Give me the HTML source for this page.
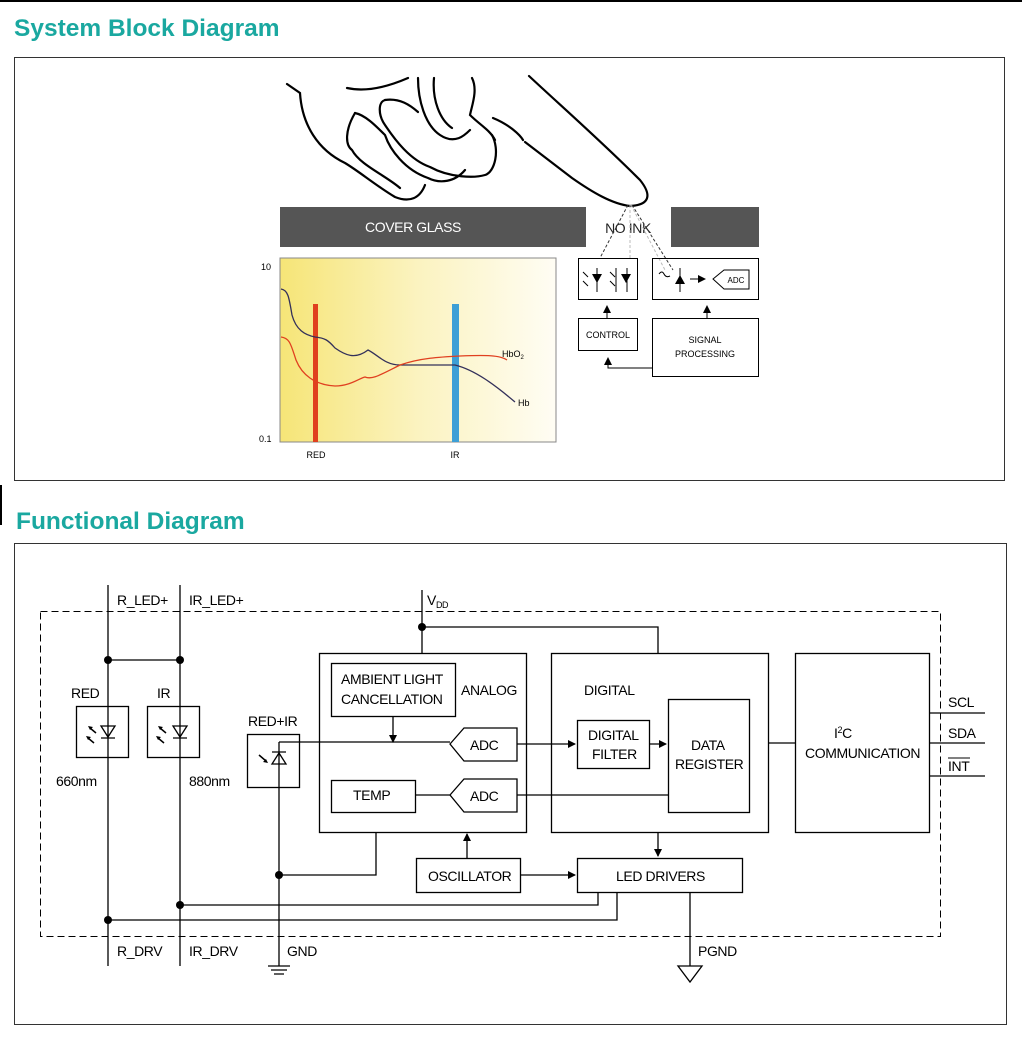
<!DOCTYPE html>
<html><head><meta charset="utf-8"><style>
body{margin:0;background:#fff;width:1022px;height:1036px;overflow:hidden;font-family:"Liberation Sans",Arial,sans-serif;}
svg text{font-family:"Liberation Sans",Arial,sans-serif;}
.f text{letter-spacing:-0.4px;}
</style></head><body>
<svg width="1022" height="1036" viewBox="0 0 1022 1036" xmlns="http://www.w3.org/2000/svg">
<defs>
<linearGradient id="yg" x1="0" x2="1" y1="0" y2="0">
<stop offset="0" stop-color="#f6e577"/><stop offset="0.5" stop-color="#fbf3c0"/><stop offset="1" stop-color="#fffdf4"/>
</linearGradient>
<marker id="ar" markerWidth="8" markerHeight="8" refX="7" refY="4" orient="auto" markerUnits="userSpaceOnUse"><path d="M0,0 L8,4 L0,8z" fill="#000"/></marker>
</defs>
<rect x="0" y="0" width="1022" height="2" fill="#000"/>
<rect x="0" y="485" width="2" height="40" fill="#000"/>
<text x="14" y="36" font-size="24.5" font-weight="bold" fill="#1aa8a0">System Block Diagram</text>
<text x="16" y="529" font-size="24.5" font-weight="bold" fill="#1aa8a0">Functional Diagram</text>
<rect x="14.5" y="57.5" width="990" height="423" fill="none" stroke="#333" stroke-width="1"/>
<rect x="14.5" y="543.5" width="992" height="481" fill="none" stroke="#333" stroke-width="1"/>

<!-- hand -->
<g fill="none" stroke="#000" stroke-width="2.2" stroke-linecap="round">
<path d="M287,84 L300,93 C302,125 318,150 345,163 C360,172 375,185 395,197 C410,203 420,198 425,185"/>
<path d="M347,88 C365,92 385,88 408,78"/>
<path d="M355,113 C345,130 345,145 352,150 C360,165 385,175 400,188"/>
<path d="M355,113 C365,115 375,125 385,135 C390,150 405,170 428,178 C440,184 455,182 465,170"/>
<path d="M385,100 C378,102 378,115 385,125 C395,140 410,160 430,167 C450,178 475,178 485,175 C495,172 500,150 492,135"/>
<path d="M385,100 C400,98 410,105 418,112"/>
<path d="M418,78 C418,100 425,125 440,135 C455,145 465,135 470,130"/>
<path d="M434,78 C432,100 440,120 452,128"/>
<path d="M472,78 C478,90 472,105 470,115 C480,125 490,130 495,140"/>
<path d="M493,118 C510,125 520,135 523,140"/>
<path d="M529,76 C560,105 600,140 640,180 C652,195 650,205 630,206 C612,204 592,192 572,178 L525,142"/>
</g>

<!-- cover glass -->
<rect x="280" y="207" width="479" height="40" fill="#555"/>
<rect x="586" y="207" width="85" height="40" fill="#fff"/>
<text x="413" y="232" font-size="14" fill="#fff" text-anchor="middle" letter-spacing="-0.4">COVER GLASS</text>
<text x="628" y="233" font-size="14" fill="#222" text-anchor="middle" letter-spacing="-0.4">NO INK</text>
<g stroke-dasharray="3,2" stroke-width="1" fill="none">
<path d="M628,205 L600,258" stroke="#333"/>
<path d="M630,205 L630,258" stroke="#bbb"/>
<path d="M631,205 L665,270" stroke="#bbb"/>
<path d="M632,205 L673,270" stroke="#333"/>
</g>

<!-- chart -->
<rect x="280" y="258" width="276" height="184" fill="url(#yg)" stroke="#888"/>
<text x="261" y="270" font-size="9">10</text>
<text x="259" y="442" font-size="9">0.1</text>
<rect x="313" y="304" width="5" height="138" fill="#e0401e"/>
<rect x="452" y="304" width="7" height="138" fill="#3d9fd6"/>
<path d="M281,289 C288,290 289,297 292,315 C296,330 305,335 315,337 C325,338 328,340 335,348 C345,355 355,360 368,350 C378,355 385,365 400,365 L455,365 C475,370 495,385 515,402" fill="none" stroke="#33305a" stroke-width="1.3"/>
<path d="M281,337 C290,338 291,345 296,360 C302,375 315,385 335,386 C350,386 360,378 365,377 C372,380 380,375 400,365 C420,358 440,357 460,356 C485,355 500,355 507,360" fill="none" stroke="#e04020" stroke-width="1.3"/>
<text x="502" y="357" font-size="9">HbO<tspan font-size="6" dy="2">2</tspan></text>
<text x="518" y="406" font-size="9">Hb</text>
<text x="316" y="458" font-size="9" text-anchor="middle">RED</text>
<text x="455" y="458" font-size="9" text-anchor="middle">IR</text>

<!-- block system -->
<g fill="none" stroke="#000" stroke-width="1">
<rect x="578.5" y="258.5" width="59" height="41"/>
<rect x="652.5" y="258.5" width="106" height="41"/>
<rect x="578.5" y="318.5" width="59" height="32"/>
<rect x="652.5" y="318.5" width="106" height="58"/>
<path d="M607,318 L607,306" marker-end="url(#ar)"/>
<path d="M707,318 L707,306" marker-end="url(#ar)"/>
<path d="M652,368 L608,368 L608,358" marker-end="url(#ar)"/>
<path d="M690,279 L705,279" marker-end="url(#ar)"/>
<path d="M713,279 L724,270 L749,270 L749,289 L724,289 Z"/>
<path d="M597,268 L597,292 M616,268 L616,292 M627,268 L627,292 M680,268 L680,292"/>
<path d="M583,272 l5,5 M583,281 l5,5 M610,272 l5,5 M610,281 l5,5 M659,274 q3,-4 5,0 q2,4 6,2"/>
</g>
<text x="736" y="283" font-size="8" text-anchor="middle">ADC</text>
<g fill="#000">
<path d="M592,274 L602,274 L597,283z"/><path d="M621,274 L631,274 L626,283z"/>
<path d="M675,284 L685,284 L680,275z"/>
</g>
<text x="608" y="338" font-size="9" text-anchor="middle">CONTROL</text>
<text x="705" y="343" font-size="9" text-anchor="middle">SIGNAL</text>
<text x="705" y="357" font-size="9" text-anchor="middle">PROCESSING</text>

<!-- functional -->
<rect x="40.5" y="611.5" width="900" height="325" fill="none" stroke="#000" stroke-dasharray="7,4"/>
<g fill="none" stroke="#000" stroke-width="1.3">
<path d="M108,585 V966 M180,585 V966 M108,660 H180"/>
<rect x="76.5" y="706.5" width="52" height="51" fill="#fff"/>
<rect x="147.5" y="706.5" width="52" height="51" fill="#fff"/>
<path d="M108,706 V757 M180,706 V757"/>
<path d="M101,726 L115,726 L108,737z M101,738 H115 M173,726 L187,726 L180,737z M173,738 H187"/>
<rect x="247.5" y="734.5" width="52" height="53"/>
<path d="M279,742 H450 M279,742 V966"/>
<path d="M272,764 L286,764 L279,753z M272,752 H286"/>
<path d="M268,966 H290 M271,970 H287 M274,974 H284"/>
<rect x="319.5" y="653.5" width="207" height="179"/>
<rect x="331.5" y="663.5" width="124" height="53"/>
<rect x="331.5" y="780.5" width="84" height="32"/>
<path d="M450,744 L464,728 L517,728 L517,761 L464,761 Z"/>
<path d="M450,795 L464,779 L517,779 L517,812 L464,812 Z"/>
<path d="M393,716 V742" marker-end="url(#ar)"/>
<path d="M415,795 H450"/>
<path d="M517,744 H575" marker-end="url(#ar)"/>
<path d="M517,795 H668"/>
<path d="M422,590 V653 M422,627 H658 V653"/>
<rect x="551.5" y="653.5" width="217" height="179"/>
<rect x="577.5" y="720.5" width="72" height="48"/>
<rect x="668.5" y="699.5" width="81" height="113"/>
<path d="M649,744 H666" marker-end="url(#ar)"/>
<path d="M768,743 H795"/>
<rect x="795.5" y="653.5" width="134" height="179"/>
<path d="M929,713 H985 M929,743 H985 M929,776 H985"/>
<rect x="416.5" y="858.5" width="104" height="34"/>
<rect x="577.5" y="858.5" width="165" height="34"/>
<path d="M467,858 V834" marker-end="url(#ar)"/>
<path d="M520,875 H575" marker-end="url(#ar)"/>
<path d="M658,832 V856" marker-end="url(#ar)"/>
<path d="M376,832 V875 H279"/>
<path d="M690,892 V966 M678,966 H702 L690,982 Z"/>
<path d="M598,892 V905 H180 M617,892 V920 H108"/>
</g>
<g fill="#000">
<path d="M90,728 l6,5 M88,738 l6,5" stroke="#000" stroke-width="1.5"/>
<path d="M88,726 l5,1 -3,3z M86,736 l5,1 -3,3z"/>
<path d="M160,728 l6,5 M158,738 l6,5" stroke="#000" stroke-width="1.5"/>
<path d="M158,726 l5,1 -3,3z M156,736 l5,1 -3,3z"/>
<path d="M259,755 l7,6" stroke="#000" stroke-width="1.5"/><path d="M268,763 l-5,-1 3,-3z"/>
<circle cx="108" cy="660" r="4"/><circle cx="180" cy="660" r="4"/>
<circle cx="422" cy="627" r="4"/><circle cx="279" cy="875" r="4"/>
<circle cx="180" cy="905" r="4"/><circle cx="108" cy="920" r="4"/>
</g>
<g font-size="14" fill="#000" class="f">
<text x="117" y="605">R_LED+</text><text x="189" y="605">IR_LED+</text>
<text x="427" y="605">V<tspan font-size="9" dy="3">DD</tspan></text>
<text x="71" y="698">RED</text><text x="157" y="698">IR</text>
<text x="248" y="726">RED+IR</text>
<text x="56" y="786">660nm</text><text x="189" y="786">880nm</text>
<text x="341" y="684">AMBIENT LIGHT</text><text x="341" y="704">CANCELLATION</text>
<text x="461" y="695">ANALOG</text>
<text x="353" y="800">TEMP</text>
<text x="470" y="750">ADC</text><text x="470" y="801">ADC</text>
<text x="584" y="695">DIGITAL</text>
<text x="588" y="740">DIGITAL</text><text x="592" y="759">FILTER</text>
<text x="691" y="750">DATA</text><text x="675" y="769">REGISTER</text>
<text x="834" y="738">I<tspan font-size="9" dy="-5">2</tspan><tspan dy="5">C</tspan></text>
<text x="805" y="758">COMMUNICATION</text>
<text x="948" y="707">SCL</text><text x="948" y="738">SDA</text><text x="948" y="771">INT</text>
<text x="428" y="881">OSCILLATOR</text>
<text x="616" y="881">LED DRIVERS</text>
<text x="117" y="956">R_DRV</text><text x="189" y="956">IR_DRV</text>
<text x="287" y="956">GND</text><text x="698" y="956">PGND</text>
</g>
<path d="M948,758 H970" stroke="#000"/>
</svg>
</body></html>
